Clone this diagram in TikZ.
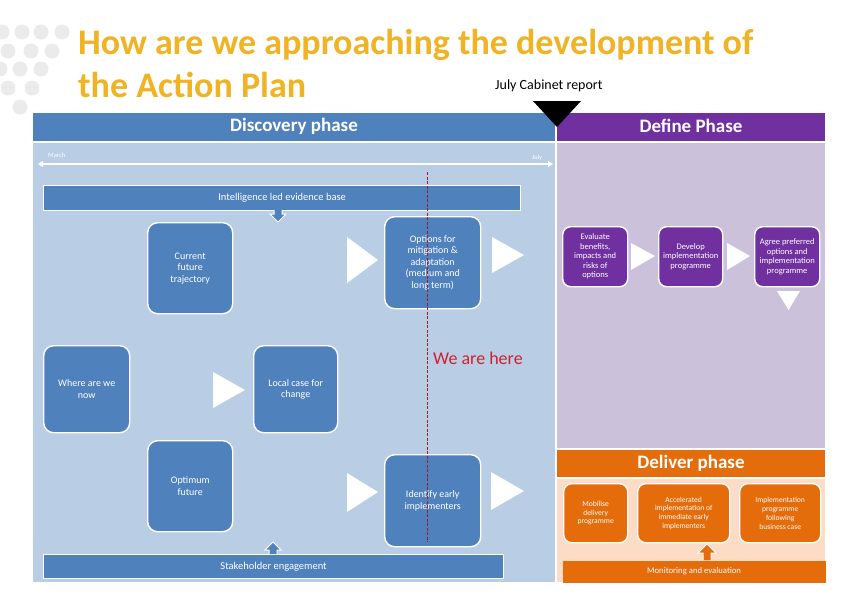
\documentclass[tikz,border=0pt]{standalone}
\usepackage{fontspec}
\setmainfont{Carlito}
\usetikzlibrary{arrows.meta,shapes.geometric}
\definecolor{dblue}{HTML}{4F81BD}
\definecolor{lblue}{HTML}{B9CDE5}
\definecolor{dpurple}{HTML}{7030A0}
\definecolor{lpurple}{HTML}{CCC1DA}
\definecolor{dorange}{HTML}{E46C0A}
\definecolor{lpeach}{HTML}{FCDCC4}
\definecolor{titlecol}{HTML}{F0B323}
\definecolor{dotgrey}{HTML}{EBEBEB}
\definecolor{herered}{HTML}{D0202E}
\tikzset{
  phasehead/.style={draw=none,anchor=north west,inner sep=0pt},
  headtext/.style={text=white,font=\bfseries\fontsize{19}{20}\selectfont},
  rbox/.style={draw=white,line width=1.4pt,rounded corners=10pt,text=white,align=center,anchor=north west,inner sep=1pt,font=\fontsize{10}{11.5}\selectfont},
  sbox/.style={rbox,rounded corners=8pt,font=\fontsize{8.5}{9.5}\selectfont},
  dbox/.style={rbox,rounded corners=8pt,font=\fontsize{7.6}{8.8}\selectfont},
  bar/.style={draw=white,line width=1.2pt,text=white,anchor=north west,inner sep=0pt,font=\fontsize{10.5}{11}\selectfont},
  tri/.style={fill=white,draw=none},
  blockarrow/.style={draw=white,line width=1pt},
}
\begin{document}
\begin{tikzpicture}[x=1pt,y=-1pt]
\useasboundingbox[fill=white] (0,0) rectangle (842,595);
% decorative dots
\foreach \px/\py in {2/32,22/32,41/32,62/32,8/51,31/51,52/51,0/69,20/69,41/69,8/88,32/88,20/107}
  \fill[dotgrey] (\px,\py) circle (7.5);
% title
\node[anchor=base west,inner sep=0pt,text=titlecol,font=\bfseries\fontsize{36}{38}\selectfont] (title1) at (78,54) {How are we approaching the development of};
\node[anchor=base west,inner sep=0pt,text=titlecol,font=\bfseries\fontsize{36}{38}\selectfont] (title2) at (78,97) {the Action Plan};
\node[anchor=base west,inner sep=0pt,font=\fontsize{14}{15}\selectfont] (cab) at (495,89) {July Cabinet report};
% Discovery phase
\node[phasehead,fill=dblue,minimum width=522,minimum height=28] (dischead) at (33,113) {};
\node[headtext] (dishtext) at (294,126) {Discovery phase};
\node[draw=none,fill=lblue,anchor=north west,minimum width=522,minimum height=439,inner sep=0pt] (disbody) at (33,143) {};
% Define phase
\node[phasehead,fill=dpurple,minimum width=268,minimum height=28] (defhead) at (557,113) {};
\node[headtext] (defhtext) at (691,126) {Define Phase};
\node[draw=none,fill=lpurple,anchor=north west,minimum width=268,minimum height=305,inner sep=0pt] (defbody) at (557,143) {};
% Deliver phase
\node[phasehead,fill=dorange,minimum width=268,minimum height=27] (delhead) at (557,450) {};
\node[headtext] (delhtext) at (691,463) {Deliver phase};
\node[draw=none,fill=lpeach,anchor=north west,minimum width=268,minimum height=103,inner sep=0pt] (delbody) at (557,479) {};
% cabinet marker triangle
\fill[black] (533,101) -- (581,101) -- (557,127) -- cycle;
% timeline
\coordinate (tstart) at (38,164);
\coordinate (tend) at (553,164);
\draw[white,line width=1.2pt,{Triangle[length=5pt,width=6pt]}-{Triangle[length=5pt,width=6pt]}] (tstart) -- (tend);
\node[anchor=base west,inner sep=0pt,text=white,font=\fontsize{6.5}{7}\selectfont] (march) at (48,157) {March};
\node[anchor=base west,inner sep=0pt,text=white,font=\fontsize{6.5}{7}\selectfont] (july) at (532,159) {July};
% bars
\node[bar,fill=dblue,minimum width=477,minimum height=25] (intel) at (43,185) {Intelligence led evidence base};
\node[bar,fill=dblue,minimum width=460,minimum height=24] (stake) at (43,554) {Stakeholder engagement};
% block arrows
\draw[blockarrow,fill=dblue] (274,210) -- (274,214) -- (270,214) -- (278,222) -- (286,214) -- (282,214) -- (282,210);
\draw[blockarrow,fill=dblue] (269,554) -- (269,550) -- (265,550) -- (273,542) -- (281,550) -- (277,550) -- (277,554);
% discovery boxes
\node[rbox,fill=dblue,minimum width=85,minimum height=91] (curr) at (147,222) {Current\\future\\trajectory};
\node[rbox,fill=dblue,minimum width=96,minimum height=92] (opts) at (384,216) {Options for\\mitigation \&\\adaptation\\(medium and\\long term)};
\node[rbox,fill=dblue,minimum width=86,minimum height=87] (where) at (43,345) {Where are we\\now};
\node[rbox,fill=dblue,minimum width=84,minimum height=87] (local) at (253,345) {Local case for\\change};
\node[rbox,fill=dblue,minimum width=85,minimum height=91] (optim) at (147,440) {Optimum\\future};
\node[rbox,fill=dblue,minimum width=96,minimum height=92] (ident) at (384,454) {Identify early\\implementers};
% white triangles (discovery)
\fill[tri] (347,237) -- (378,260) -- (347,283) -- cycle;
\fill[tri] (492,237) -- (524,255) -- (492,273) -- cycle;
\fill[tri] (213,372) -- (245,390) -- (213,408) -- cycle;
\fill[tri] (347,473) -- (378,492) -- (347,512) -- cycle;
\fill[tri] (491,472) -- (524,491) -- (491,510) -- cycle;
% we are here
\coordinate (hereTop) at (427,172);
\coordinate (hereBot) at (427,542);
\draw[herered!80!black,line width=0.7pt,dash pattern=on 3pt off 1.5pt] (hereTop) -- (hereBot);
\node[anchor=base west,inner sep=0pt,text=herered,font=\fontsize{18}{19}\selectfont] (here) at (433,364) {We are here};
% define boxes
\node[sbox,fill=dpurple,minimum width=65,minimum height=60] (eval) at (562,226) {Evaluate\\benefits,\\impacts and\\risks of\\options};
\node[sbox,fill=dpurple,minimum width=64,minimum height=60] (devel) at (658,226) {Develop\\implementation\\programme};
\node[sbox,fill=dpurple,minimum width=65,minimum height=60] (agree) at (754,226) {Agree preferred\\options and\\implementation\\programme};
\fill[tri] (631,243) -- (655,256) -- (631,270) -- cycle;
\fill[tri] (727,243) -- (750,256) -- (727,270) -- cycle;
\fill[tri] (777,291) -- (800,291) -- (788.5,310) -- cycle;
% deliver boxes
\node[dbox,fill=dorange,minimum width=64,minimum height=59] (mobil) at (563,483) {Mobilise\\delivery\\programme};
\node[dbox,fill=dorange,minimum width=92,minimum height=59] (accel) at (637,483) {Accelerated\\implementation of\\immediate early\\implementers};
\node[dbox,fill=dorange,minimum width=81,minimum height=59] (implp) at (739,483) {Implementation\\programme\\following\\business case};
\node[bar,draw=none,fill=dorange,minimum width=263,minimum height=22,font=\fontsize{8.7}{9}\selectfont] (monit) at (562,560) {Monitoring and evaluation};
\draw[blockarrow,fill=dorange] (703,560) -- (703,553) -- (698,553) -- (707,544) -- (716,553) -- (711,553) -- (711,560);
\end{tikzpicture}
\end{document}
